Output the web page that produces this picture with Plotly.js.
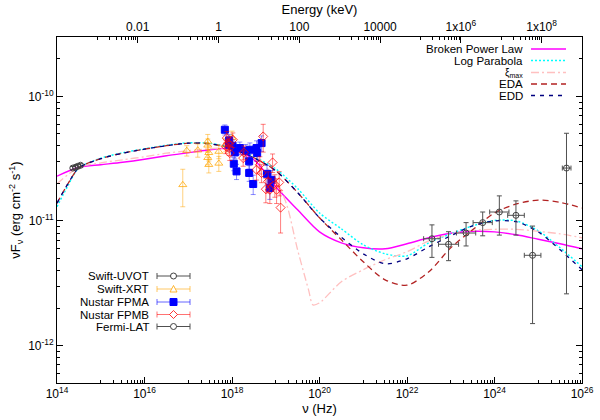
<!DOCTYPE html>
<html><head><meta charset="utf-8">
<script src="https://cdn.plot.ly/plotly-3.0.1.min.js"></script>
<style>body{margin:0;background:#fff}#chart{width:600px;height:420px}</style>
</head><body><div id="chart"></div>
<script>
// ---------------- data ----------------
const gridNu = [1e14,1.78e14,3.16e14,1e15,3.16e15,1e16,3.16e16,1e17,3.16e17,1e18,3.16e18,1e19,3.16e19,1e20,3.16e20,1e21,3.16e21,1e22,3.16e22,1e23,3.16e23,1e24,3.16e24,1e25,3.16e25,1e26];
const lpF  = [1.30e-11,1.92e-11,2.67e-11,3.19e-11,3.53e-11,3.80e-11,4.06e-11,4.24e-11,4.20e-11,3.87e-11,3.28e-11,2.62e-11,1.82e-11,1.16e-11,8.65e-12,6.44e-12,5.45e-12,5.25e-12,6.68e-12,7.88e-12,9.14e-12,1.01e-11,1.00e-11,8.34e-12,6.09e-12,4.29e-12];
const eddF = [1.39e-11,1.99e-11,2.67e-11,3.16e-11,3.50e-11,3.77e-11,4.02e-11,4.21e-11,4.17e-11,3.80e-11,3.22e-11,2.53e-11,1.69e-11,1.06e-11,7.40e-12,5.45e-12,4.53e-12,4.97e-12,6.21e-12,7.60e-12,9.14e-12,1.00e-11,9.86e-12,8.18e-12,5.87e-12,4.06e-12];
const edaF = [1.39e-11,1.99e-11,2.67e-11,3.16e-11,3.50e-11,3.77e-11,4.02e-11,4.21e-11,4.17e-11,3.80e-11,3.22e-11,2.53e-11,1.69e-11,1.06e-11,7.06e-12,4.70e-12,3.37e-12,3.05e-12,3.91e-12,6.09e-12,8.50e-12,1.16e-11,1.37e-11,1.47e-11,1.41e-11,1.27e-11];
const bplNu = [1e14,3.16e14,1e15,3.16e15,1e16,3.16e16,1e17,3.16e17,1e18,3.16e18,5.62e18,1e19,3.16e19,1e20,3.16e20,1e21,3.16e21,1e22,3.16e22,1e23,3.16e23,1e24,3.16e24,1e25,3.16e25,1e26];
const bplF  = [2.29e-11,2.70e-11,2.83e-11,2.96e-11,3.13e-11,3.34e-11,3.53e-11,3.73e-11,3.80e-11,3.10e-11,2.48e-11,1.88e-11,1.23e-11,8.18e-12,6.68e-12,6.09e-12,5.98e-12,6.56e-12,7.33e-12,7.96e-12,8.26e-12,8.18e-12,7.75e-12,7.13e-12,6.56e-12,5.98e-12];
const xiNu = [1e14,3.16e14,1e15,3.16e15,1e16,3.16e16,1e17,3.16e17,1e18,3.16e18,1e19,1.78e19,3.16e19,5.62e19,7.08e19,1e20,3.16e20,1e21,3.16e21,1e22,3.16e22,1e23,3.16e23,1e24,3.16e24,1e25,3.16e25,1e26];
const xiF  = [1.99e-11,2.70e-11,2.93e-11,3.10e-11,3.28e-11,3.50e-11,3.66e-11,3.80e-11,3.84e-11,3.40e-11,2.14e-11,1.35e-11,5.87e-12,2.80e-12,2.12e-12,2.20e-12,3.25e-12,4.06e-12,4.88e-12,5.66e-12,6.93e-12,7.88e-12,8.41e-12,8.57e-12,8.57e-12,8.26e-12,7.88e-12,7.33e-12];

const uvotNu  = [2.3e14,2.65e14,3.0e14,3.45e14];
const uvotF   = [2.66e-11,2.70e-11,2.75e-11,2.80e-11];
const uvotErr = [0.08e-11,0.08e-11,0.08e-11,0.08e-11];

const xrtNu  = [7.5e16,9.25e16,1.65e17,2.79e17,2.79e17,2.95e17,2.79e17,2.95e17,5.0e17,5.0e17,7.2e17,1.0e18];
const xrtF   = [1.95e-11,3.67e-11,3.70e-11,4.35e-11,4.05e-11,3.53e-11,3.22e-11,2.83e-11,3.61e-11,2.90e-11,4.09e-11,4.66e-11];
const xrtErr = [0.65e-11,0.35e-11,0.45e-11,0.6e-11,0.5e-11,0.5e-11,0.4e-11,0.4e-11,0.45e-11,0.4e-11,0.5e-11,0.6e-11];

const fpmaNu  = [6.86e17,8.59e17,8.59e17,1.03e18,1.16e18,1.10e18,1.27e18,1.51e18,2.07e18,2.56e18,2.47e18,2.47e18,3.05e18,3.64e18,3.76e18,4.74e18,6.3e18,7.34e18,8.0e18];
const fpmaF   = [5.40e-11,4.44e-11,4.09e-11,4.02e-11,3.55e-11,2.88e-11,2.50e-11,3.85e-11,3.66e-11,3.73e-11,3.01e-11,2.43e-11,1.98e-11,3.85e-11,3.51e-11,4.22e-11,2.39e-11,1.84e-11,2.14e-11];
const fpmaErr = [0.5e-11,0.5e-11,0.45e-11,0.45e-11,0.4e-11,0.35e-11,0.35e-11,0.45e-11,0.45e-11,0.5e-11,0.4e-11,0.35e-11,0.35e-11,0.55e-11,0.5e-11,0.6e-11,0.4e-11,0.35e-11,0.4e-11];

const fpmbNu  = [7.2e17,7.6e17,8.15e17,8.6e17,8.9e17,1.045e18,1.80e18,1.87e18,3.64e18,4.33e18,4.74e18,5.16e18,8.47e18,6.71e18,5.94e18,9.55e18,1.2e19,7.34e18,1.045e19,1.29e19];
const fpmbF   = [3.97e-11,4.63e-11,4.22e-11,3.85e-11,3.51e-11,4.49e-11,3.20e-11,3.55e-11,2.58e-11,2.83e-11,2.43e-11,4.77e-11,2.95e-11,2.08e-11,1.80e-11,1.95e-11,2.04e-11,1.78e-11,1.78e-11,1.28e-11];
const fpmbErr = [0.5e-11,0.6e-11,0.5e-11,0.5e-11,0.45e-11,0.6e-11,0.45e-11,0.45e-11,0.45e-11,0.45e-11,0.4e-11,1.2e-11,0.5e-11,0.4e-11,0.4e-11,0.4e-11,0.45e-11,0.4e-11,0.4e-11,0.48e-11];

const fermiNu   = [3.72e22,8.9e22,2.24e23,5.37e23,1.29e24,3.09e24,7.41e24,4.42e25];
const fermiNuLo = [2.4e22,5.25e22,1.35e23,3.24e23,7.76e23,2.0e24,4.8e24,3.55e25];
const fermiNuHi = [5.75e22,1.51e23,3.72e23,8.9e23,2.14e24,4.8e24,1.15e25,5.6e25];
const fermiF    = [7.2e-12,6.5e-12,8.0e-12,9.7e-12,1.18e-11,1.11e-11,5.3e-12,2.66e-11];
const fermiErr  = [2.1e-12,1.7e-12,1.7e-12,2.1e-12,4.1e-12,3.4e-12,3.8e-12,2.4e-11];

const xTickVals = [1e14,1e16,1e18,1e20,1e22,1e24,1e26];
const xTickText = ['10<sup>14</sup>','10<sup>16</sup>','10<sup>18</sup>','10<sup>20</sup>','10<sup>22</sup>','10<sup>24</sup>','10<sup>26</sup>'];
const yTickVals = [1e-12,1e-11,1e-10];
const yTickText = ['10<sup>-12</sup>','10<sup>-11</sup>','10<sup>-10</sup>'];
const eTickVals = [0.01,1,100,1e4,1e6,1e8];
const eTickText = ['0.01','1','100','10000','1x10<sup>6</sup>','1x10<sup>8</sup>'];

// ---------------- minor tick positions ----------------
const xMinor=[]; for(let e=15;e<=25;e+=2){for(let k=1;k<=9;k++) xMinor.push(k*Math.pow(10,e));}
const eMinor=[]; for(let e=-3;e<=7;e+=2){for(let k=1;k<=9;k++) eMinor.push(k*Math.pow(10,e));}
const yMinor=[]; for(let e=-13;e<=-10;e++){for(let k=2;k<=9;k++){const v=k*Math.pow(10,e); if(v>5e-13&&v<3e-10) yMinor.push(v);}}

const FONT='Liberation Sans, Arial, sans-serif';
function curve(x,y,color,dash,width,name){return {x:x,y:y,type:'scatter',mode:'lines',name:name,line:{color:color,dash:dash,width:width,shape:'spline',smoothing:0.8},hoverinfo:'skip',showlegend:false};}
function pts(x,y,err,sym,mcol,ecol,size,name,extra){const t={x:x,y:y,type:'scatter',mode:'markers',name:name,showlegend:false,
  marker:{symbol:sym,size:size,color:mcol,line:{color:mcol,width:1}},
  error_y:{type:'data',array:err,visible:true,color:ecol,thickness:1,width:2.5}}; return Object.assign(t,extra||{});}

const fermiPlus = fermiNuHi.map((h,i)=>h-fermiNu[i]);
const fermiMinus = fermiNuLo.map((l,i)=>fermiNu[i]-l);

const traces=[
  curve(bplNu,bplF,'#ff00ff','solid',1.4,'Broken Power Law'),
  curve(gridNu,lpF,'#00ffff','2px,2px',1.4,'Log Parabola'),
  curve(xiNu,xiF,'#ffc0c0','8px,3px,2px,3px',1.3,'ξmax'),
  curve(gridNu,edaF,'#b22222','6px,4px',1.3,'EDA'),
  curve(gridNu,eddF,'#000080','4px,5px',1.3,'EDD'),
  pts(xrtNu,xrtF,xrtErr,'triangle-up-open','rgba(255,165,0,0.75)','rgba(255,165,0,0.5)',7,'Swift-XRT'),
  pts(fpmaNu,fpmaF,fpmaErr,'square','#0000ff','rgba(0,0,255,0.45)',7,'Nustar FPMA'),
  pts(fpmbNu,fpmbF,fpmbErr,'diamond-open','rgba(255,0,0,0.75)','rgba(255,0,0,0.5)',7,'Nustar FPMB'),
  pts(uvotNu,uvotF,uvotErr,'circle-open','#404040','#404040',6,'Swift-UVOT'),
  pts(fermiNu,fermiF,fermiErr,'circle-open','#404040','#505050',6,'Fermi-LAT',
      {error_x:{type:'data',symmetric:false,array:fermiPlus,arrayminus:fermiMinus,visible:true,color:'#505050',thickness:1,width:2.5}}),
  // carrier so the energy axis (top) is drawn; holds no visible points
  {x:eTickVals,y:eTickVals.map(()=>null),xaxis:'x2',yaxis:'y',type:'scatter',mode:'markers',showlegend:false,hoverinfo:'skip'}
];

// ---------------- layout ----------------
const W=600,H=420,L=57,R=18,T=37,B=37;
const pw=W-L-R, ph=H-T-B;
const px=x=>(x-L)/pw, py=y=>(H-B-y)/ph;

const shapes=[], annotations=[];
const modelKey=[
  {t:'Broken Power Law',c:'#ff00ff',d:'solid',w:1.4,s:11.5},
  {t:'Log Parabola',c:'#00ffff',d:'2px,2px',w:1.4,s:11.5},
  {t:'ξ<sub>max</sub>',c:'#ffc0c0',d:'8px,3px,2px,3px',w:1.3,s:10},
  {t:'EDA',c:'#b22222',d:'6px,4px',w:1.3,s:11.5},
  {t:'EDD',c:'#000080',d:'4px,5px',w:1.3,s:11.5}];
const modelRows=[49,60.5,72.5,84,95.5];
modelKey.forEach((k,i)=>{
  const yy=py(modelRows[i]);
  annotations.push({xref:'paper',yref:'paper',x:px(525),y:yy,xanchor:'right',yanchor:'middle',text:k.t,showarrow:false,font:{family:FONT,size:k.s,color:'#000'}});
  shapes.push({type:'line',xref:'paper',yref:'paper',x0:px(531),x1:px(566),y0:yy,y1:yy,line:{color:k.c,width:k.w,dash:k.d}});
});
const dataKey=[
  {t:'Swift-UVOT',c:'#404040',m:'circle',f:false},
  {t:'Swift-XRT',c:'rgba(255,165,0,0.8)',m:'triangle',f:false},
  {t:'Nustar FPMA',c:'#0000ff',m:'square',f:true},
  {t:'Nustar FPMB',c:'rgba(255,0,0,0.8)',m:'diamond',f:false},
  {t:'Fermi-LAT',c:'#404040',m:'circle',f:false}];
const dataRows=[276,289,302,314.5,326.5];
const markPath={triangle:'M -3.5 -3 L 3.5 -3 L 0 3.5 Z',diamond:'M 0 4 L 4 0 L 0 -4 L -4 0 Z',square:'M -3.5 -3.5 L 3.5 -3.5 L 3.5 3.5 L -3.5 3.5 Z'};
dataKey.forEach((k,i)=>{
  const yy=py(dataRows[i]);
  annotations.push({xref:'paper',yref:'paper',x:px(151),y:yy,xanchor:'right',yanchor:'middle',text:k.t,showarrow:false,font:{family:FONT,size:11.5,color:'#000'}});
  const lc = k.m==='square'?'rgba(0,0,255,0.6)':(k.m==='diamond'?'rgba(255,0,0,0.55)':(k.m==='triangle'?'rgba(255,165,0,0.6)':'#505050'));
  shapes.push({type:'line',xref:'paper',yref:'paper',x0:px(157),x1:px(190),y0:yy,y1:yy,line:{color:lc,width:1}});
  [157,190].forEach(xc=>shapes.push({type:'line',xref:'paper',yref:'paper',xsizemode:'pixel',ysizemode:'pixel',xanchor:px(xc),yanchor:yy,x0:0,x1:0,y0:-3,y1:3,line:{color:lc,width:1}}));
  if(k.m==='circle'){
    shapes.push({type:'circle',xref:'paper',yref:'paper',xsizemode:'pixel',ysizemode:'pixel',xanchor:px(173.5),yanchor:yy,x0:-3,x1:3,y0:-3,y1:3,fillcolor:'#fff',line:{color:k.c,width:1}});
  } else {
    shapes.push({type:'path',xref:'paper',yref:'paper',xsizemode:'pixel',ysizemode:'pixel',xanchor:px(173.5),yanchor:yy,path:markPath[k.m],fillcolor:k.f?k.c:'#fff',line:{color:k.c,width:1}});
  }
});

const axBase={ticks:'inside',ticklen:6,tickwidth:1,tickcolor:'#000',showline:true,linecolor:'#000',linewidth:1,showgrid:false,zeroline:false,
  tickmode:'array',tickfont:{family:FONT,size:12,color:'#000'}};

const layout={
  width:W,height:H,margin:{l:L,r:R,t:T,b:B},paper_bgcolor:'#fff',plot_bgcolor:'#fff',showlegend:false,
  font:{family:FONT,color:'#000'},
  xaxis:Object.assign({},axBase,{type:'log',range:[14,26],tickvals:xTickVals,ticktext:xTickText,mirror:false,
    minor:{tickmode:'array',tickvals:xMinor,ticks:'inside',ticklen:3,tickcolor:'#000',showgrid:false},
    title:{text:'ν (Hz)',font:{family:FONT,size:13,color:'#000'},standoff:0}}),
  xaxis2:Object.assign({},axBase,{type:'log',range:[-4,9],overlaying:'x',anchor:'y',side:'top',tickvals:eTickVals,ticktext:eTickText,
    minor:{tickmode:'array',tickvals:eMinor,ticks:'inside',ticklen:3,tickcolor:'#000',showgrid:false},
    title:{text:'Energy (keV)',font:{family:FONT,size:13,color:'#000'},standoff:0}}),
  yaxis:Object.assign({},axBase,{type:'log',range:[Math.log10(5e-13),Math.log10(3e-10)],tickvals:yTickVals,ticktext:yTickText,mirror:'ticks',
    minor:{tickmode:'array',tickvals:yMinor,ticks:'inside',ticklen:3,tickcolor:'#000',showgrid:false},
    title:{text:'νF<sub>ν</sub> (erg cm<sup>-2</sup> s<sup>-1</sup>)',font:{family:FONT,size:13,color:'#000'},standoff:4}}),
  shapes:shapes,annotations:annotations
};
Plotly.newPlot('chart',traces,layout,{displayModeBar:false,staticPlot:true});
</script></body></html>
